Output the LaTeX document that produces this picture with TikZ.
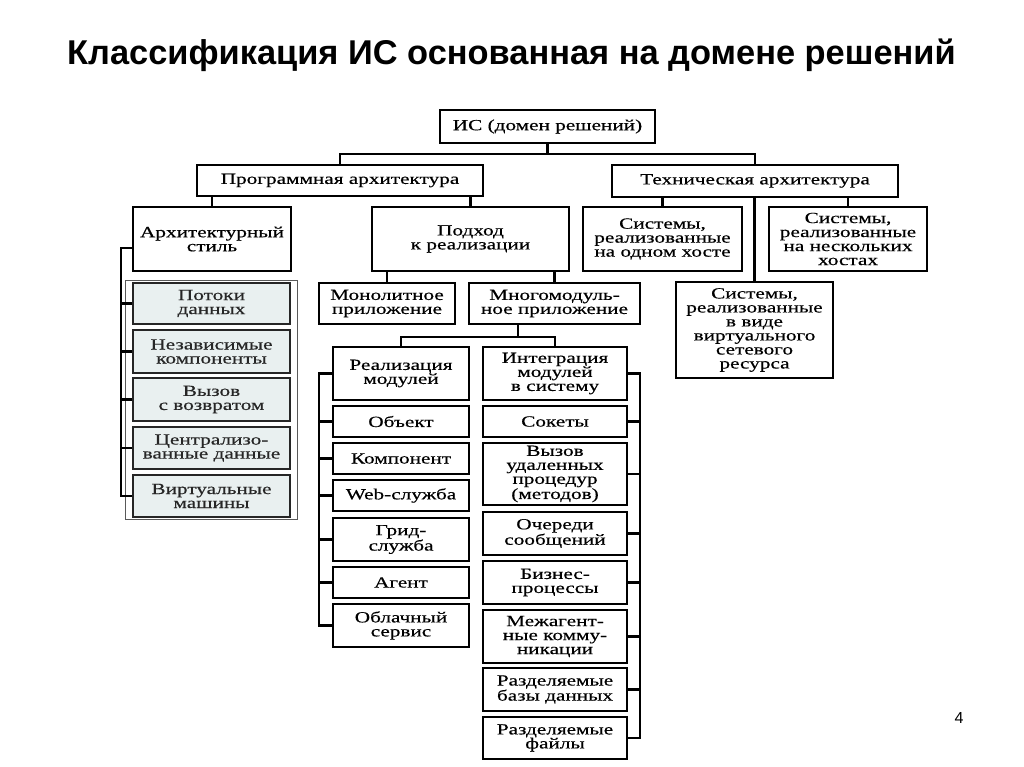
\documentclass[tikz,border=0pt]{standalone}
\usepackage{fontspec}
\setmainfont{Liberation Serif}
\newfontfamily\boxfont[FakeStretch=1.37,FakeBold=0.4]{Liberation Serif}
\newfontfamily\titlefont{Liberation Sans}
\usetikzlibrary{fit}
\definecolor{stylefill}{HTML}{E9F0F0}
\begin{document}
\begin{tikzpicture}[x=1pt,y=-1pt,
  box/.style={draw=black, line width=2.2pt, fill=white, align=center, inner sep=0pt,
    font=\boxfont\fontsize{15.5}{14}\selectfont},
  sbox/.style={box, draw=black!85, fill=stylefill, text=black!85},
  wh/.style 2 args={minimum width=#1pt, minimum height=#2pt},
  conn/.style={line width=2.2pt, line join=miter},
  frame/.style={draw=black!65, line width=1pt}]
\fill[white] (0,0) rectangle (1024,767);
\useasboundingbox (0,0) rectangle (1024,767);

\node[font=\titlefont\bfseries\fontsize{34.4}{34.4}\selectfont, anchor=base] (title) at (511.5,65) {Классификация ИС основанная на домене решений};
\node[font=\titlefont\fontsize{16}{16}\selectfont] (pg) at (959,718) {4};

% level 0-1
\node[box, wh={215}{33}] (root) at (547.5,126.5) {ИС (домен решений)};
\node[box, wh={286}{31}] (prog) at (340,180.5) {Программная архитектура};
\node[box, wh={286}{32}] (tech) at (755,181) {Техническая архитектура};

% level 2
\node[box, wh={158}{64}] (arch) at (212,239) {Архитектурный\\стиль};
\node[box, wh={197}{64}] (podhod) at (470.5,239) {Подход\\к реализации};
\node[box, wh={159}{64}] (host1) at (662.5,239) {Системы,\\реализованные\\на одном хосте};
\node[box, wh={158}{64}] (hostN) at (848,239) {Системы,\\реализованные\\на нескольких\\хостах};
\node[box, wh={157}{96}] (virt) at (754.5,330) {Системы,\\реализованные\\в виде\\виртуального\\сетевого\\ресурса};

\node[box, wh={136}{41}] (mono) at (387,303.5) {Монолитное\\приложение};
\node[box, wh={171}{41}] (multi) at (554.5,303.5) {Многомодуль-\\ное приложение};

\node[box, wh={136}{53}] (real) at (401,373.5) {Реализация\\модулей};
\node[box, wh={144}{53}] (integ) at (555,373.5) {Интеграция\\модулей\\в систему};

% left column
\node[box, wh={136}{31}] (obj) at (401,421.5) {Объект};
\node[box, wh={136}{31}] (comp) at (401,458.5) {Компонент};
\node[box, wh={136}{31}] (web) at (401,495.5) {Web-служба};
\node[box, wh={136}{43}] (grid) at (401,539.5) {Грид-\\служба};
\node[box, wh={136}{31}] (agent) at (401,582.5) {Агент};
\node[box, wh={136}{43}] (cloud) at (401,625.5) {Облачный\\сервис};

% right column
\node[box, wh={144}{31}] (sock) at (555,421.5) {Сокеты};
\node[box, wh={144}{62}] (rpc) at (555,474) {Вызов\\удаленных\\процедур\\(методов)};
\node[box, wh={144}{43}] (queue) at (555,533.5) {Очереди\\сообщений};
\node[box, wh={144}{43}] (bp) at (555,582.5) {Бизнес-\\процессы};
\node[box, wh={144}{53}] (inter) at (555,636.5) {Межагент-\\ные комму-\\никации};
\node[box, wh={144}{43}] (db) at (555,689.5) {Разделяемые\\базы данных};
\node[box, wh={144}{42}] (files) at (555,738) {Разделяемые\\файлы};

% style column
\node[sbox, wh={157}{41}] (flow) at (211.5,303.5) {Потоки\\данных};
\node[sbox, wh={157}{43}] (indep) at (211.5,351.5) {Независимые\\компоненты};
\node[sbox, wh={157}{43}] (call) at (211.5,399.5) {Вызов\\с возвратом};
\node[sbox, wh={157}{42}] (central) at (211.5,448) {Централизо-\\ванные данные};
\node[sbox, wh={157}{42}] (vm) at (211.5,496) {Виртуальные\\машины};
\node[frame, fit=(flow)(vm), inner xsep=6.5pt, inner ysep=1pt] (sframe) {};

% connectors
\coordinate (j1) at (547.5,154);
\draw[conn] (root.south) -- (j1) -| (prog.north);
\draw[conn] (j1) -| (tech.north);
\draw[conn] (prog.south -| arch.north) -- (arch.north);
\draw[conn] (prog.south -| podhod.north) -- (podhod.north);
\draw[conn] (tech.south -| host1.north) -- (host1.north);
\draw[conn] (tech.south -| virt.north) -- (virt.north);
\draw[conn] (tech.south -| hostN.north) -- (hostN.north);
\draw[conn] (podhod.south -| mono.north) -- (mono.north);
\draw[conn] (podhod.south -| multi.north) -- (multi.north);
\coordinate (j2) at (518,337);
\draw[conn] (multi.south -| j2) -- (j2) -| (real.north);
\draw[conn] (j2) -| (integ.north);

\coordinate (lb) at (319,0);
\draw[conn] (real.west) -- (real.west -| lb) |- (cloud.west);
\foreach \n in {obj,comp,web,grid,agent} \draw[conn] (\n.west) -- (\n.west -| lb);

\coordinate (rb) at (640,0);
\draw[conn] (integ.east) -- (integ.east -| rb) |- (files.east);
\foreach \n in {sock,rpc,queue,bp,inter,db} \draw[conn] (\n.east) -- (\n.east -| rb);

\coordinate (sj) at (121,248);
\draw[conn] (arch.west |- sj) -- (sj) |- (vm.west);
\foreach \n in {flow,indep,call,central} \draw[conn] (\n.west) -- (\n.west -| sj);
\end{tikzpicture}
\end{document}
